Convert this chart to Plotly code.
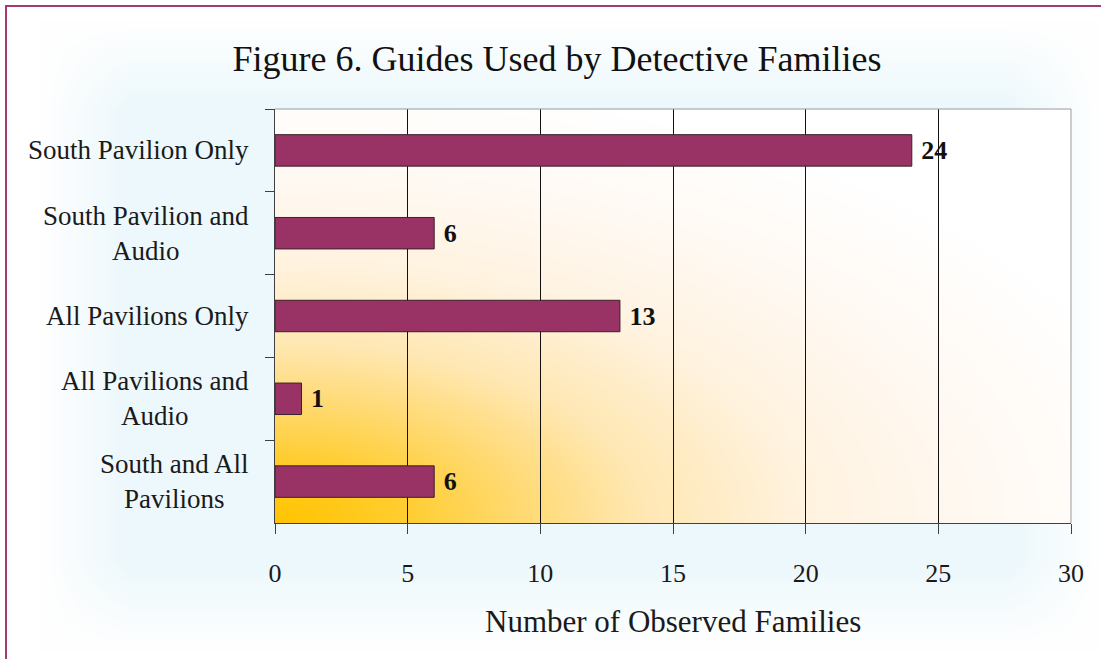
import base64
import struct
import zlib

import numpy as np
import plotly.graph_objects as go

# ---- data ----
categories = [
    "South Pavilion Only",
    "South Pavilion and Audio",
    "All Pavilions Only",
    "All Pavilions and Audio",
    "South and All Pavilions",
]
category_labels = [
    "South Pavilion Only",
    "South Pavilion and<br>Audio",
    "All Pavilions Only",
    "All Pavilions and<br>Audio",
    "South and All<br>Pavilions",
]
families = [24, 6, 13, 1, 6]
x_ticks = [0, 5, 10, 15, 20, 25, 30]

# ---- figure geometry (pixels) ----
W, H = 1101, 659
ML, MR, MT, MB = 275, 30, 109, 136
PW, PH = W - ML - MR, H - MT - MB

SERIF = "Liberation Serif"


def png_data_uri(rgb):
    """Encode an HxWx3 uint8 array as a PNG data URI."""
    h, w, _ = rgb.shape
    raw = b"".join(b"\x00" + rgb[r].tobytes() for r in range(h))

    def chunk(tag, data):
        c = struct.pack(">I", len(data)) + tag + data
        return c + struct.pack(">I", zlib.crc32(tag + data) & 0xFFFFFFFF)

    png = b"\x89PNG\r\n\x1a\n"
    png += chunk(b"IHDR", struct.pack(">IIBBBBB", w, h, 8, 2, 0, 0, 0))
    png += chunk(b"IDAT", zlib.compress(raw, 9))
    png += chunk(b"IEND", b"")
    return "data:image/png;base64," + base64.b64encode(png).decode()


# plot-area fill: warm radial gradient rising from the lower-left corner
gw, gh = 400, 208
u = np.linspace(0, 1, gw)[None, :]
v = np.linspace(1, 0, gh)[:, None]
d = np.sqrt((u * PW / 820.0) ** 2 + (v * PH / 400.0) ** 2)
stops = [0.0, 0.15, 0.30, 0.45, 0.65, 0.85, 1.10]
g_stops = [196, 205, 218, 232, 243, 249, 255]
b_stops = [0, 45, 115, 180, 224, 242, 255]
grad = np.zeros((gh, gw, 3), dtype=np.uint8)
grad[..., 0] = 255
grad[..., 1] = np.interp(d, stops, g_stops).astype(np.uint8)
grad[..., 2] = np.interp(d, stops, b_stops).astype(np.uint8)

# page fill: white with a faint cool haze around the chart body
bw, bh = 367, 220
px = np.linspace(0, W, bw)[None, :]
py = np.linspace(0, H, bh)[:, None]


def soft_box(x, lo, hi, edge):
    return np.clip((x - lo) / edge, 0, 1) * np.clip((hi - x) / edge, 0, 1)


haze = soft_box(px, 40, 1100, 90) * soft_box(py, 20, 650, 90)
bg = np.zeros((bh, bw, 3), dtype=np.uint8)
bg[..., 0] = (255 - haze * 19).astype(np.uint8)
bg[..., 1] = (255 - haze * 7).astype(np.uint8)
bg[..., 2] = (255 - haze * 3).astype(np.uint8)


def fx(pix):
    return (pix - ML) / PW


def fy(pix):
    return 1 - (pix - MT) / PH


fig = go.Figure()
fig.add_trace(
    go.Bar(
        x=families,
        y=categories,
        orientation="h",
        width=0.38,
        marker=dict(color="#993366", line=dict(color="#3a1f2c", width=1)),
        texttemplate="\u00a0%{x}",
        textposition="outside",
        textfont=dict(family=SERIF, size=26, color="#111111", weight="bold"),
        cliponaxis=False,
        constraintext="none",
        hoverinfo="skip",
    )
)

annotations = [
    dict(
        x=0, xref="paper", xshift=-24, xanchor="right",
        y=cat, yref="y", yanchor="middle",
        text=lab, align="center", showarrow=False,
        font=dict(family=SERIF, size=27, color="#1a1a1a"),
    )
    for cat, lab in zip(categories, category_labels)
]
annotations.append(
    dict(
        x=0.5, xref="paper", xanchor="center",
        y=fy(621), yref="paper", yanchor="middle",
        text="Number of Observed Families", showarrow=False,
        font=dict(family=SERIF, size=31, color="#1a1a1a"),
    )
)

shapes = [
    # grey frame on the top and right of the plotting area
    dict(type="line", xref="paper", yref="paper", x0=0, x1=1, y0=1, y1=1,
         line=dict(color="#9a9a9a", width=1), layer="above"),
    dict(type="line", xref="paper", yref="paper", x0=1, x1=1, y0=0, y1=1,
         line=dict(color="#9a9a9a", width=1), layer="above"),
    # outer page border
    dict(type="rect", xref="paper", yref="paper",
         x0=fx(6), x1=fx(W + 20), y0=fy(6), y1=fy(H + 20),
         line=dict(color="#a33a70", width=2), fillcolor="rgba(0,0,0,0)",
         layer="above"),
]

images = [
    dict(source=png_data_uri(bg), xref="paper", yref="paper",
         x=fx(0), y=fy(0), sizex=W / PW, sizey=H / PH,
         xanchor="left", yanchor="top", sizing="stretch", layer="below"),
    dict(source=png_data_uri(grad), xref="paper", yref="paper",
         x=0, y=1, sizex=1, sizey=1,
         xanchor="left", yanchor="top", sizing="stretch", layer="below"),
]

fig.update_layout(
    width=W,
    height=H,
    margin=dict(l=ML, r=MR, t=MT, b=MB, pad=0),
    paper_bgcolor="white",
    plot_bgcolor="rgba(0,0,0,0)",
    showlegend=False,
    title=dict(
        text="Figure 6. Guides Used by Detective Families",
        x=557 / W, xref="container", xanchor="center",
        y=1 - 58 / H, yref="container", yanchor="middle",
        font=dict(family=SERIF, size=36, color="#111111"),
    ),
    xaxis=dict(
        range=[0, 30],
        tickvals=x_ticks,
        ticktext=[str(t) for t in x_ticks],
        ticks="outside",
        ticklen=10,
        tickcolor="#404040",
        showline=True,
        linecolor="#404040",
        linewidth=1,
        showgrid=True,
        gridcolor="#111111",
        gridwidth=1,
        zeroline=False,
        ticklabelstandoff=17,
        tickfont=dict(family=SERIF, size=26, color="#1a1a1a"),
    ),
    yaxis=dict(
        type="category",
        categoryorder="array",
        categoryarray=categories,
        autorange="reversed",
        ticks="outside",
        tickson="boundaries",
        ticklen=9,
        tickcolor="#404040",
        showticklabels=False,
        showline=True,
        linecolor="#404040",
        linewidth=1,
        showgrid=False,
        zeroline=False,
    ),
    annotations=annotations,
    shapes=shapes,
    images=images,
)

fig.write_html("out.html")
